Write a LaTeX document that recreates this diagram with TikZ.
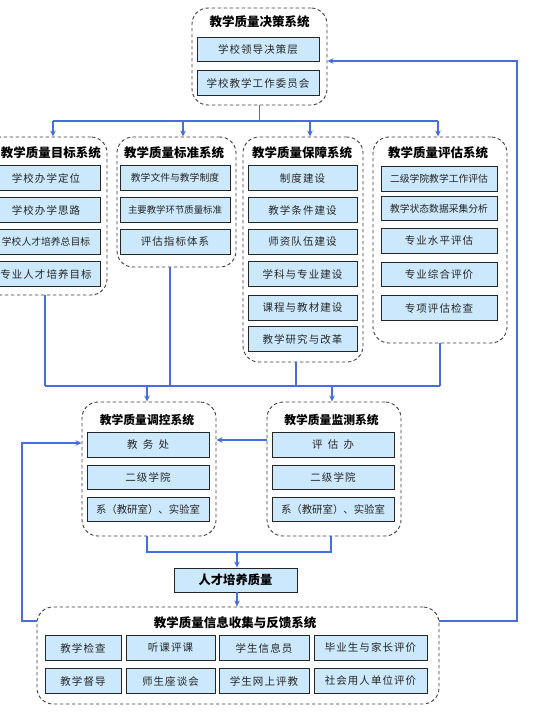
\documentclass[tikz,border=0pt]{standalone}
\usepackage{fontspec}
\setmainfont{Noto Sans CJK SC}
\newfontfamily\bxfont[LetterSpace=10]{Noto Sans CJK SC}
\usetikzlibrary{arrows.meta}
\definecolor{boxblue}{RGB}{204,232,252}
\definecolor{lineblue}{RGB}{70,110,225}
\tikzset{
  bx/.style={draw=black!85, line width=0.9pt, fill=boxblue, inner sep=0pt,
    minimum height=24.5pt, text=black!85, font=\bxfont\fontsize{10.5}{12}\selectfont},
  bxt/.style={bx, font=\fontsize{9.8}{12}\selectfont},
  cont/.style={draw=black!75, dash pattern=on 3.5pt off 2.5pt, line width=0.9pt,
    rounded corners=16pt, inner sep=0pt},
  ttl/.style={font=\bfseries\fontsize{12.5}{14}\selectfont, inner sep=0pt},
  ttls/.style={font=\bfseries\fontsize{11.8}{14}\selectfont, inner sep=0pt},
  conn/.style={draw=lineblue, line width=1.6pt},
  arr/.style={conn, -{Stealth[length=6pt,width=5.5pt]}}
}
\begin{document}
\begin{tikzpicture}[x=1pt,y=-1pt]
\useasboundingbox (0,0) rectangle (536,715);
\fill[white] (0,0) rectangle (536,715);

% ---------- top: decision system
\node[cont, minimum width=135pt, minimum height=97pt] (top) at (259.5,56.5) {};
\node[ttl] (topT) at (259.5,22) {教学质量决策系统};
\node[bx, minimum width=122pt] (top1) at (258,49.5) {学校领导决策层};
\node[bx, minimum width=122pt] (top2) at (258,83) {学校教学工作委员会};

% ---------- target system
\node[cont, minimum width=122pt, minimum height=158pt] (tg) at (46,216) {};
\node[ttl] (tgT) at (51,153) {教学质量目标系统};
\node[bx, minimum width=108pt] (tg1) at (46,178) {学校办学定位};
\node[bx, minimum width=108pt] (tg2) at (46,210) {学校办学思路};
\node[bxt, minimum width=108pt] (tg3) at (46,242) {学校人才培养总目标};
\node[bx, minimum width=108pt] (tg4) at (46,274) {专业人才培养目标};

% ---------- standard system
\node[cont, minimum width=119pt, minimum height=130pt] (st) at (176.5,202) {};
\node[ttl] (stT) at (174,153) {教学质量标准系统};
\node[bxt, minimum width=110pt] (st1) at (175,178) {教学文件与教学制度};
\node[bxt, minimum width=110pt, font=\fontsize{9.4}{12}\selectfont] (st2) at (175,210) {主要教学环节质量标准};
\node[bx, minimum width=110pt] (st3) at (175,242) {评估指标体系};

% ---------- assurance system
\node[cont, minimum width=120pt, minimum height=225pt] (as) at (303,249.5) {};
\node[ttl] (asT) at (302,153) {教学质量保障系统};
\node[bx, minimum width=109pt] (as1) at (302.5,178) {制度建设};
\node[bx, minimum width=109pt] (as2) at (302.5,210) {教学条件建设};
\node[bx, minimum width=109pt] (as3) at (302.5,242) {师资队伍建设};
\node[bx, minimum width=109pt] (as4) at (302.5,274) {学科与专业建设};
\node[bx, minimum width=109pt] (as5) at (302.5,308) {课程与教材建设};
\node[bx, minimum width=109pt] (as6) at (302.5,339) {教学研究与改革};

% ---------- evaluation system
\node[cont, minimum width=134pt, minimum height=206pt] (ev) at (440,240) {};
\node[ttl] (evT) at (438,153) {教学质量评估系统};
\node[bxt, minimum width=116pt] (ev1) at (439,179) {二级学院教学工作评估};
\node[bxt, minimum width=116pt] (ev2) at (439,208.5) {教学状态数据采集分析};
\node[bx, minimum width=116pt] (ev3) at (439,241) {专业水平评估};
\node[bx, minimum width=116pt] (ev4) at (439,274.5) {专业综合评价};
\node[bx, minimum width=116pt] (ev5) at (439,308) {专项评估检查};

% ---------- control system
\node[cont, minimum width=134pt, minimum height=134pt] (ct) at (149,469) {};
\node[ttls] (ctT) at (147,420) {教学质量调控系统};
\node[bx, minimum width=122pt] (ct1) at (148,445) {教\enspace 务\enspace 处};
\node[bx, minimum width=122pt] (ct2) at (148,477.5) {二级学院};
\node[bxt, minimum width=122pt, font=\fontsize{10.4}{12}\selectfont] (ct3) at (148,509.5) {系（教研室）、实验室};

% ---------- monitoring system
\node[cont, minimum width=134pt, minimum height=134pt] (mo) at (334,469) {};
\node[ttls] (moT) at (331.5,420) {教学质量监测系统};
\node[bx, minimum width=122pt] (mo1) at (333,445) {评\enspace 估\enspace 办};
\node[bx, minimum width=122pt] (mo2) at (333,477.5) {二级学院};
\node[bxt, minimum width=122pt, font=\fontsize{10.4}{12}\selectfont] (mo3) at (333,509.5) {系（教研室）、实验室};

% ---------- quality
\node[bx, minimum width=123pt, minimum height=24pt, text=black,
  font=\bfseries\fontsize{12.3}{14}\selectfont] (q) at (235.5,580) {人才培养质量};

% ---------- info collection & feedback system
\node[cont, minimum width=402pt, minimum height=97pt] (bt) at (238,655.5) {};
\node[ttl] (btT) at (235,623) {教学质量信息收集与反馈系统};
\node[bx, minimum width=76pt] (bt1) at (83,648) {教学检查};
\node[bx, minimum width=89pt] (bt2) at (170.5,648) {听课评课};
\node[bx, minimum width=90pt] (bt3) at (264,648) {学生信息员};
\node[bx, minimum width=113pt] (bt4) at (370.5,648) {毕业生与家长评价};
\node[bx, minimum width=76pt] (bt5) at (83,681) {教学督导};
\node[bx, minimum width=89pt] (bt6) at (170.5,681) {师生座谈会};
\node[bx, minimum width=90pt] (bt7) at (264,681) {学生网上评教};
\node[bx, minimum width=113pt] (bt8) at (370.5,681) {社会用人单位评价};

% ---------- connectors: top bus
\coordinate (bL) at (53,121);
\coordinate (b2) at (183,121);
\coordinate (b3) at (310,121);
\coordinate (bR) at (438,121);
\draw[conn] (top.south) -- (top.south |- bL);
\draw[conn] (bL) -- (bR);
\draw[arr] (bL) -- (bL |- tg.north);
\draw[arr] (b2) -- (b2 |- st.north);
\draw[arr] (b3) -- (b3 |- as.north);
\draw[arr] (bR) -- (bR |- ev.north);

% ---------- middle bus
\coordinate (m1) at (45,386);
\coordinate (m2) at (170,386);
\coordinate (m3) at (296,386);
\coordinate (m4) at (440,386);
\coordinate (m5) at (147,386);
\coordinate (m6) at (332,386);
\draw[conn] (m1 |- tg.south) -- (m1);
\draw[conn] (m2 |- st.south) -- (m2);
\draw[conn] (m3 |- as.south) -- (m3);
\draw[conn] (ev.south) -- (m4);
\draw[conn] (m1) -- (m4);
\draw[arr] (m5) -- (m5 |- ct.north);
\draw[arr] (m6) -- (m6 |- mo.north);

% ---------- monitor -> control
\coordinate (k1) at (0,440);
\draw[arr] (k1 -| mo.west) -- (k1 -| ct.east);

% ---------- lower bus
\coordinate (n1) at (147,552);
\coordinate (n2) at (331,552);
\coordinate (n0) at (237,552);
\draw[conn] (n1 |- ct.south) -- (n1) -- (n2) -- (n2 |- mo.south);
\draw[arr] (n0) -- (n0 |- q.north);
\draw[arr] (q.south -| n0) -- (n0 |- bt.north);

% ---------- feedback loops
\coordinate (lft) at (22,621);
\coordinate (k2) at (0,443);
\draw[arr] (bt.west |- lft) -- (lft) -- (lft |- k2) -- (k2 -| ct.west);
\coordinate (rt) at (517,621);
\coordinate (k3) at (0,61);
\draw[arr] (bt.east |- rt) -- (rt) -- (rt |- k3) -- (k3 -| top.east);
\end{tikzpicture}
\end{document}
